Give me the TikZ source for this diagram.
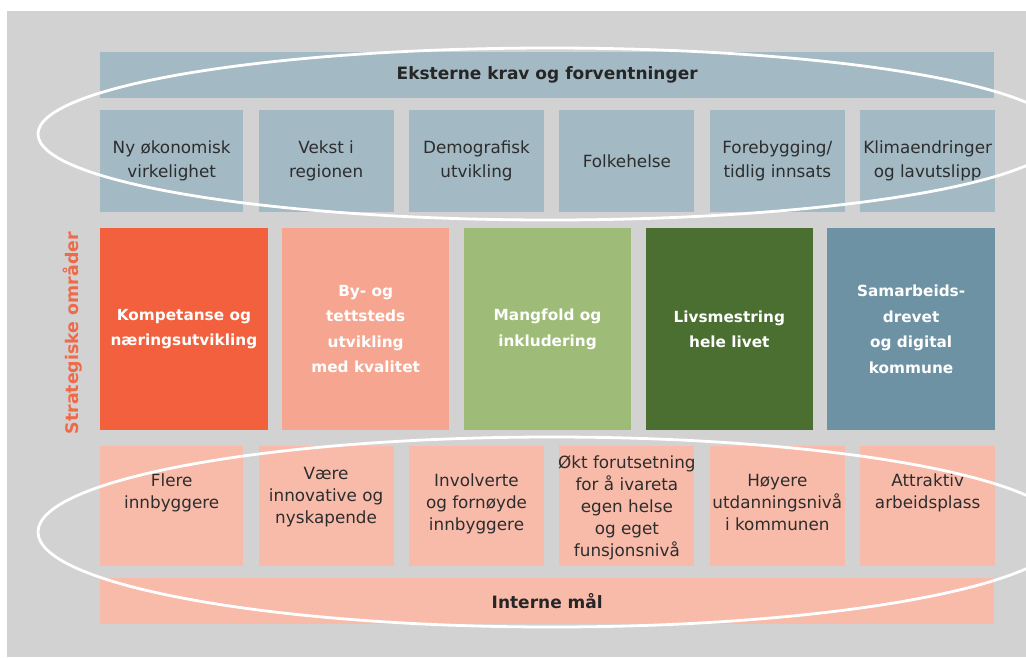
\documentclass[tikz,border=0pt]{standalone}
\usepackage{fontspec}
\setmainfont{DejaVu Sans}
\usepackage{xcolor}
\usepackage{tikz}
\usetikzlibrary{positioning}
\definecolor{bggray}{RGB}{209,210,209}
\definecolor{extblue}{RGB}{163,185,196}
\definecolor{areaorange}{RGB}{242,96,62}
\definecolor{areasalmon}{RGB}{246,166,144}
\definecolor{arealgreen}{RGB}{158,188,120}
\definecolor{areadgreen}{RGB}{75,111,49}
\definecolor{areasteel}{RGB}{108,146,163}
\definecolor{goalpink}{RGB}{248,187,170}
\definecolor{stratorange}{RGB}{240,106,74}
\definecolor{txtgray}{RGB}{45,45,45}

\begin{document}
\begin{tikzpicture}[
    x=1pt, y=-1pt,
    node distance=15pt,
    band/.style={rectangle, minimum width=894pt, minimum height=46pt, inner sep=0pt, text=black!85, font=\bfseries\fontsize{17}{20}\selectfont},
    ext/.style={rectangle, fill=extblue, minimum width=135pt, minimum height=102pt, inner sep=0pt, align=center, text=txtgray, font=\fontsize{16.8}{24}\selectfont},
    area/.style={rectangle, minimum width=167.4pt, minimum height=202pt, inner sep=0pt, align=center, text=white, font=\bfseries\fontsize{15.3}{25.5}\selectfont},
    goal/.style={rectangle, fill=goalpink, minimum width=135pt, minimum height=120pt, inner sep=0pt},
    goaltext/.style={anchor=north, inner sep=0pt, align=center, text=txtgray, font=\fontsize{16.8}{22}\selectfont},
    ring/.style={draw=white, line width=2.8pt}
]
\useasboundingbox (0,0) rectangle (1026,657);
\clip (0,0) rectangle (1026,657);
\fill[white] (0,0) rectangle (1026,657);
\fill[bggray] (7,11) rectangle (1026,657);

% external demands
\node[band, fill=extblue, anchor=north west] (ekst) at (100,52) {Eksterne krav og forventninger};
\node[ext, minimum width=143pt, anchor=north west] (e1) at (100,110) {Ny økonomisk\\virkelighet};
\node[ext, right=of e1] (e2) {Vekst i\\regionen};
\node[ext, right=of e2] (e3) {Demografisk\\utvikling};
\node[ext, right=of e3] (e4) {Folkehelse};
\node[ext, right=of e4] (e5) {Forebygging/\\tidlig innsats};
\node[ext, right=of e5] (e6) {Klimaendringer\\og lavutslipp};

% strategic areas
\node[area, fill=areaorange, anchor=north west] (a1) at (100,228) {Kompetanse og\\næringsutvikling};
\node[area, fill=areasalmon, right=14pt of a1] (a2) {By- og\\tettsteds\\utvikling\\med kvalitet};
\node[area, fill=arealgreen, right=14pt of a2] (a3) {Mangfold og\\inkludering};
\node[area, fill=areadgreen, right=14pt of a3] (a4) {Livsmestring\\hele livet};
\node[area, fill=areasteel, right=14pt of a4] (a5) {Samarbeids-\\drevet\\og digital\\kommune};
\node[rotate=90, text=stratorange, font=\bfseries\fontsize{17.4}{20}\selectfont] (strat) at ([xshift=-27pt,yshift=-4pt]a1.west) {Strategiske områder};

% internal goals
\node[goal, minimum width=143pt, anchor=north west] (g1) at (100,446) {};
\node[goal, right=of g1] (g2) {};
\node[goal, right=of g2] (g3) {};
\node[goal, right=of g3] (g4) {};
\node[goal, right=of g4] (g5) {};
\node[goal, right=of g5] (g6) {};
\node[goaltext, below=28pt of g1.north] (g1t) {Flere\\innbyggere};
\node[goaltext, below=21pt of g2.north] (g2t) {Være\\innovative og\\nyskapende};
\node[goaltext, below=28pt of g3.north] (g3t) {Involverte\\og fornøyde\\innbyggere};
\node[goaltext, below=10pt of g4.north] (g4t) {Økt forutsetning\\for å ivareta\\egen helse\\og eget\\funsjonsnivå};
\node[goaltext, below=28pt of g5.north] (g5t) {Høyere\\utdanningsnivå\\i kommunen};
\node[goaltext, below=28pt of g6.north] (g6t) {Attraktiv\\arbeidsplass};
\node[band, fill=goalpink, anchor=north west] (intern) at (100,578) {Interne mål};

% rings
\draw[ring] (550,134) ellipse [x radius=512, y radius=86];
\draw[ring] (552,532) ellipse [x radius=514, y radius=95];

\end{tikzpicture}
\end{document}
